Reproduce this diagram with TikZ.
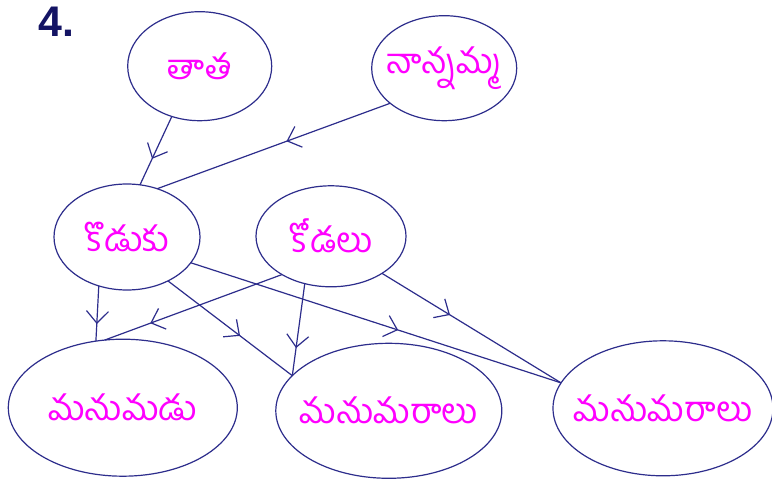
\documentclass[tikz,border=0pt]{standalone}
\usepackage{fontspec}
\usetikzlibrary{shapes.geometric,arrows.meta,decorations.markings}
\newfontfamily\tefont[Script=Telugu]{Hind Guntur}
\newfontfamily\lsans{Liberation Sans}
\definecolor{edgeblue}{RGB}{45,45,140}
\definecolor{labelpink}{RGB}{255,0,255}
\definecolor{numnavy}{RGB}{20,20,100}
\newcommand{\zw}[1]{\makebox[0pt]{#1}}
\tikzset{
  person/.style={ellipse, draw=edgeblue, line width=1.2bp, inner sep=0pt, outer sep=0pt,
    text=labelpink, font=\tefont\fontsize{35}{40}\selectfont},
  rel/.style={draw=edgeblue, line width=1.2bp, postaction={decorate},
    decoration={markings, mark=at position #1 with {\arrow{Straight Barb[length=12bp,width=22bp,line width=1.2bp]}}}}
}
\begin{document}
\begin{tikzpicture}[x=1bp,y=-1bp]
\useasboundingbox[fill=white] (0,0) rectangle (772,481);
\node[anchor=base west, inner sep=0pt, text=numnavy, font=\lsans\bfseries\fontsize{43}{43}\selectfont] (num) at (38,37) {4.};
\node[person, minimum width=144bp, minimum height=109bp] (tata) at (199.7,66.2) {\zw{తాత}};
\node[person, minimum width=145bp, minimum height=105bp] (nanamma) at (444.2,68.2) {\zw{నాన్నమ్మ}};
\node[person, minimum width=146bp, minimum height=106bp] (koduku) at (127,237) {\zw{కొడుకు}};
\node[person, minimum width=150bp, minimum height=101bp] (kodalu) at (331,236.3) {\zw{కోడలు}};
\node[person, minimum width=229bp, minimum height=137bp] (manumadu) at (122.8,407.7) {\zw{మనుమడు}};
\node[person, minimum width=226bp, minimum height=135bp] (manumaralu1) at (388.8,410.8) {\zw{మనుమరాలు}};
\node[person, minimum width=220bp, minimum height=135bp] (manumaralu2) at (663,408.3) {\zw{మనుమరాలు}};
\draw[rel=0.62] (tata.241.9) -- (koduku.76.2);
\draw[rel=0.445] (nanamma.213) -- (koduku.58.9);
\draw[rel=0.69] (koduku.240) -- (manumadu.112.4);
\draw[rel=0.743] (kodalu.218.1) -- (manumadu.105.1);
\draw[rel=0.58] (koduku.313.1) -- (manumaralu1.160);
\draw[rel=0.70] (kodalu.241.05) -- (manumaralu1.160);
\draw[rel=0.56] (koduku.338.4) -- (manumaralu2.166.2);
\draw[rel=0.38] (kodalu.324.6) -- (manumaralu2.166.2);
\end{tikzpicture}
\end{document}
